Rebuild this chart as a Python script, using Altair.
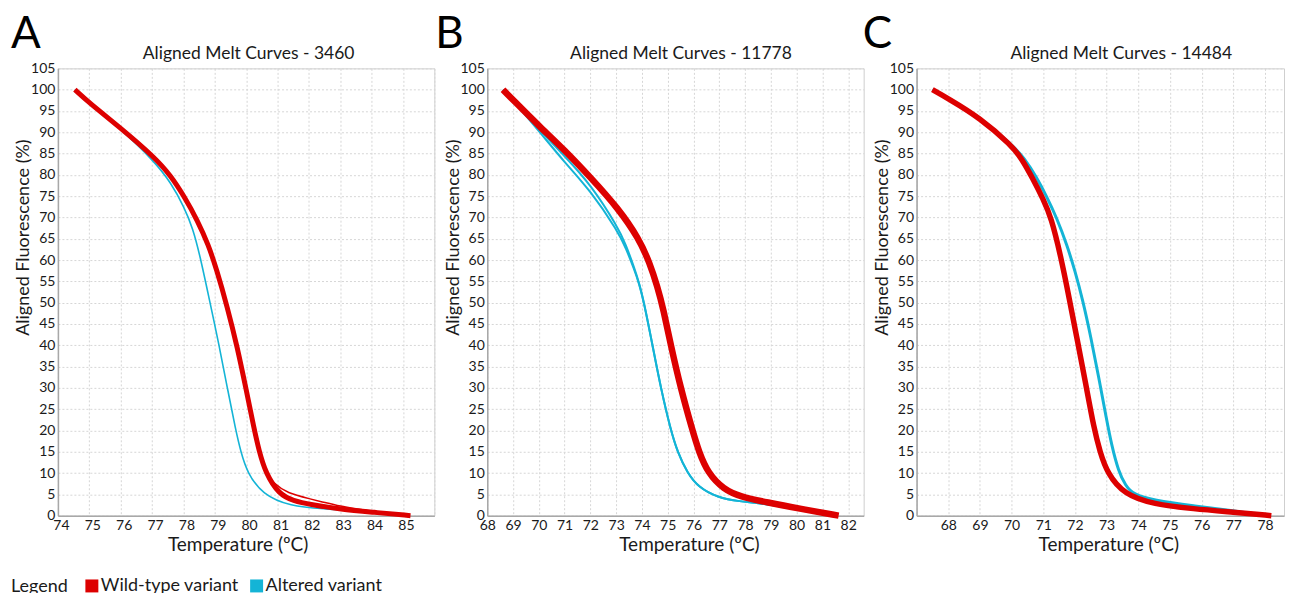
import altair as alt
import pandas as pd

FONT = "Lato"
RED = "#DD0000"
CYAN = "#14B4D6"
TEXT = "#1a1a1a"
VARIANTS = ["Wild-type variant", "Altered variant"]

# ---------------- Panel A : 3460 ----------------
A_WT_T = [74.54, 75.0, 76.0, 77.07, 77.6, 78.02, 78.45, 78.8, 79.05, 79.4, 79.72, 79.99, 80.25, 80.41, 80.62, 81.05, 81.5, 82.06, 83.01, 84.07, 85.24]
A_WT_F = [100.0, 96.9, 91.0, 84.2, 79.8, 75.0, 69.3, 63.5, 58.0, 49.0, 39.5, 30.0, 20.5, 15.3, 10.0, 5.0, 3.5, 2.6, 1.5, 0.8, 0.0]
A_WT2_T = [80.62, 80.9, 81.3, 82.06, 82.5, 83.01, 83.5, 84.0, 84.6, 85.2]
A_WT2_F = [10.0, 7.5, 5.3, 3.9, 3.1, 2.2, 1.6, 1.0, 0.5, 0.0]
A_ALT_T = [74.54, 75.0, 76.0, 77.07, 77.6, 78.02, 78.3, 78.53, 78.82, 79.14, 79.4, 79.67, 79.83, 80.04, 80.52, 81.4, 82.5, 83.4, 85.0]
A_ALT_F = [100.0, 96.8, 90.8, 83.2, 78.2, 72.5, 67.5, 61.0, 51.0, 40.0, 30.0, 20.0, 15.0, 10.0, 5.0, 2.2, 1.6, 1.2, 0.0]

# ---------------- Panel B : 11778 ----------------
B_WT_T = [68.61, 69.0, 70.02, 70.99, 72.02, 73.06, 73.89, 74.3, 74.6, 74.83, 75.12, 75.5, 75.96, 76.21, 76.56, 77.17, 77.8, 78.86, 80.15, 81.63]
B_WT_F = [100.0, 97.6, 91.4, 85.9, 79.3, 72.3, 65.0, 59.3, 53.8, 48.5, 40.0, 30.0, 20.0, 15.0, 10.0, 6.2, 4.5, 3.1, 1.6, 0.0]
B_ALT_T = [68.61, 69.0, 70.02, 70.99, 72.02, 73.06, 73.38, 73.7, 73.89, 74.08, 74.41, 74.73, 75.12, 75.38, 75.76, 76.21, 76.92, 77.82, 78.5, 80.15, 81.6]
B_ALT1_F = [100.0, 97.5, 90.2, 83.0, 76.2, 66.8, 62.8, 57.8, 54.5, 50.0, 40.0, 30.0, 20.0, 15.0, 10.0, 6.6, 4.3, 3.3, 3.0, 1.5, 0.0]
B_ALT2_F = [100.0, 97.5, 90.6, 84.5, 77.7, 67.8, 63.6, 58.2, 54.7, 50.1, 40.0, 30.0, 20.0, 15.0, 10.0, 6.6, 4.3, 3.3, 3.0, 1.5, 0.0]

# ---------------- Panel C : 14484 ----------------
C_WT_T = [67.5, 68.0, 69.0, 70.0, 70.33, 70.65, 71.0, 71.25, 71.55, 71.82, 72.08, 72.34, 72.6, 72.79, 73.02, 73.55, 74.48, 75.74, 77.01, 78.2]
C_WT_F = [100.0, 97.9, 93.4, 86.9, 83.7, 79.4, 74.3, 70.0, 61.0, 51.0, 41.0, 31.0, 20.5, 15.0, 10.0, 5.0, 2.7, 1.6, 0.8, 0.0]
C_ALT_T = [67.5, 68.0, 69.0, 70.0, 70.4, 70.8, 71.1, 71.42, 71.75, 72.0, 72.25, 72.5, 72.75, 73.0, 73.16, 73.37, 73.6, 73.84, 74.48, 75.74, 77.01, 78.1]
C_ALT_F = [100.0, 98.0, 93.5, 87.2, 84.0, 79.3, 75.0, 70.0, 63.5, 57.5, 50.5, 42.0, 32.5, 22.5, 16.5, 10.5, 7.0, 5.0, 3.6, 2.3, 1.2, 0.0]

Y_TICKS = list(range(0, 106, 5))
A_XTICKS = list(range(74, 87))
B_XTICKS = list(range(68, 83))
C_XTICKS = list(range(67, 79))


def curve(name, variant, temps, fluor):
    return pd.DataFrame({"curve": name, "variant": variant, "temp": temps, "fluor": fluor})


color_enc = alt.Color(
    "variant:N",
    scale=alt.Scale(domain=VARIANTS, range=[RED, CYAN]),
    legend=alt.Legend(
        orient="none", legendX=25, legendY=509, direction="horizontal", title=None,
        labelFont=FONT, labelFontSize=18, labelColor=TEXT, labelOffset=0,
        columnPadding=0, symbolType="square", symbolSize=42, symbolStrokeWidth=6.5,
        symbolOpacity=1,
    ),
)


def text_layer(txt, x, y, size, align="left", color=TEXT):
    return alt.Chart(pd.DataFrame({"t": [txt]})).mark_text(
        align=align, baseline="alphabetic", font=FONT, fontSize=size, color=color
    ).encode(text="t:N", x=alt.value(x), y=alt.value(y))


def panel(letter, letter_x, title, title_x, xdom, xvals, hide, label_off, xtitle_x, width, curves, extra=()):
    x = alt.X(
        "temp:Q",
        scale=alt.Scale(domain=xdom, nice=False, zero=False),
        axis=alt.Axis(
            values=xvals, title="Temperature (ºC)", labelFlush=False, labelOffset=label_off,
            labelExpr=(f"datum.value == {hide} ? '' : datum.label" if hide is not None else "datum.label"),
            titleX=xtitle_x, titleY=35, titleBaseline="alphabetic", titleAlign="center",
            titleFontSize=19,
        ),
    )
    y = alt.Y(
        "fluor:Q",
        scale=alt.Scale(domain=[0, 105], nice=False),
        axis=alt.Axis(
            values=Y_TICKS, title="Aligned Fluorescence (%)", labelFlush=False,
            titleX=-29, titleY=169, titleAngle=270, titleBaseline="alphabetic", titleAlign="center",
        ),
    )
    layers = []
    for df, w in curves:
        layers.append(
            alt.Chart(df).mark_line(strokeWidth=w, interpolate="basis").encode(
                x=x, y=y, color=color_enc, detail="curve:N"
            )
        )
    layers.append(text_layer(letter, letter_x, -20, 44, color="#000"))
    layers.append(text_layer(title, title_x, -9, 17.5, align="center"))
    layers += list(extra)
    return alt.layer(*layers).properties(width=width, height=448)


pA = panel("A", -47, "Aligned Melt Curves - 3460", 191, [74, 86], A_XTICKS, 86, 3, 180, 377, [
    (curve("a_alt", "Altered variant", A_ALT_T, A_ALT_F), 1.6),
    (curve("a_wt", "Wild-type variant", A_WT_T, A_WT_F), 5),
    (curve("a_wt2", "Wild-type variant", A_WT2_T, A_WT2_F), 1.5),
], extra=[text_layer("Legend", -47, 524, 18)])
pB = panel("B", -52, "Aligned Melt Curves - 11778", 194, [68, 82.6], B_XTICKS, None, 0, 202, 377, [
    (curve("b_alt1", "Altered variant", B_ALT_T, B_ALT1_F), 2),
    (curve("b_alt2", "Altered variant", B_ALT_T, B_ALT2_F), 2),
    (curve("b_wt", "Wild-type variant", B_WT_T, B_WT_F), 6.5),
])
pC = panel("C", -54, "Aligned Melt Curves - 14484", 205, [67, 78.6], C_XTICKS, 67, 0, 192, 368, [
    (curve("c_alt", "Altered variant", C_ALT_T, C_ALT_F), 3),
    (curve("c_wt", "Wild-type variant", C_WT_T, C_WT_F), 5.5),
])

chart = alt.hconcat(pA, pB, pC, spacing=53, bounds="flush").properties(
    padding={"left": 2, "top": 4, "right": 0, "bottom": 0}
).configure_axis(
    labelFont=FONT, titleFont=FONT, labelFontSize=14, titleFontSize=18,
    titleFontWeight="normal", labelColor=TEXT, titleColor=TEXT,
    gridColor="#d6d6d6", gridDash=[2, 2], gridWidth=1,
    domainColor="#a8a8a8", domainWidth=1.5, ticks=False, labelPadding=3,
).configure_view(stroke="#cfcfcf", strokeWidth=1)

chart.save("out.html", embed_options={"renderer": "svg", "actions": False})
